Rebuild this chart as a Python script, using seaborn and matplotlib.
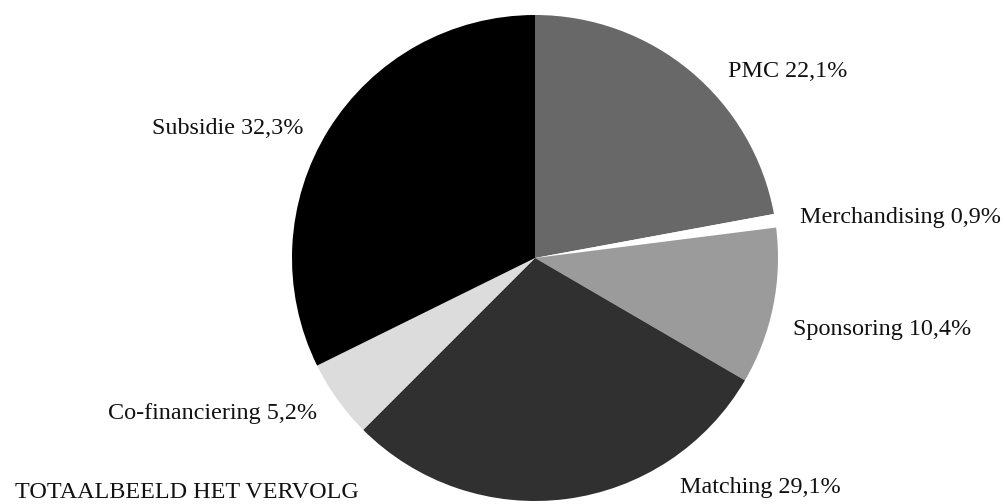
import matplotlib
matplotlib.use("Agg")
import matplotlib.pyplot as plt
import seaborn as sns

# Financing sources, clockwise from the top
categories = ["PMC", "Merchandising", "Sponsoring", "Matching", "Co-financiering", "Subsidie"]
shares = [22.1, 0.9, 10.4, 29.1, 5.2, 32.3]
title = "TOTAALBEELD HET VERVOLG"

sns.set_theme(style="white")
plt.rcParams["font.family"] = ["Liberation Serif", "DejaVu Serif"]

slice_colors = ["#686868", "#ffffff", "#9b9b9b", "#303030", "#dcdcdc", "#000000"]

W, H = 1005, 504
fig = plt.figure(figsize=(W / 100, H / 100), dpi=100)
fig.patch.set_facecolor("white")

cx, cy, r = 535, 258, 243
ax = fig.add_axes([(cx - r) / W, (H - cy - r) / H, 2 * r / W, 2 * r / H])
ax.pie(shares, colors=slice_colors, startangle=90, counterclock=False,
       wedgeprops=dict(linewidth=0), radius=1.0)
ax.set_xlim(-1, 1)
ax.set_ylim(-1, 1)
ax.set_axis_off()

# label anchor points (left edge, vertical centre) in pixels
label_pos = [(728, 72), (800, 217), (793, 329), (680, 487), (108, 413), (152, 128)]
for name, val, (x, y) in zip(categories, shares, label_pos):
    txt = f"{name} {val:.1f}%".replace(".", ",")
    fig.text(x / W, 1 - y / H, txt, ha="left", va="center", fontsize=17.4, color="#111111")

fig.text(15 / W, 1 - 493 / H, title, ha="left", va="center", fontsize=17.4, color="#111111")

fig.savefig("out.png", dpi=100, facecolor="white")
